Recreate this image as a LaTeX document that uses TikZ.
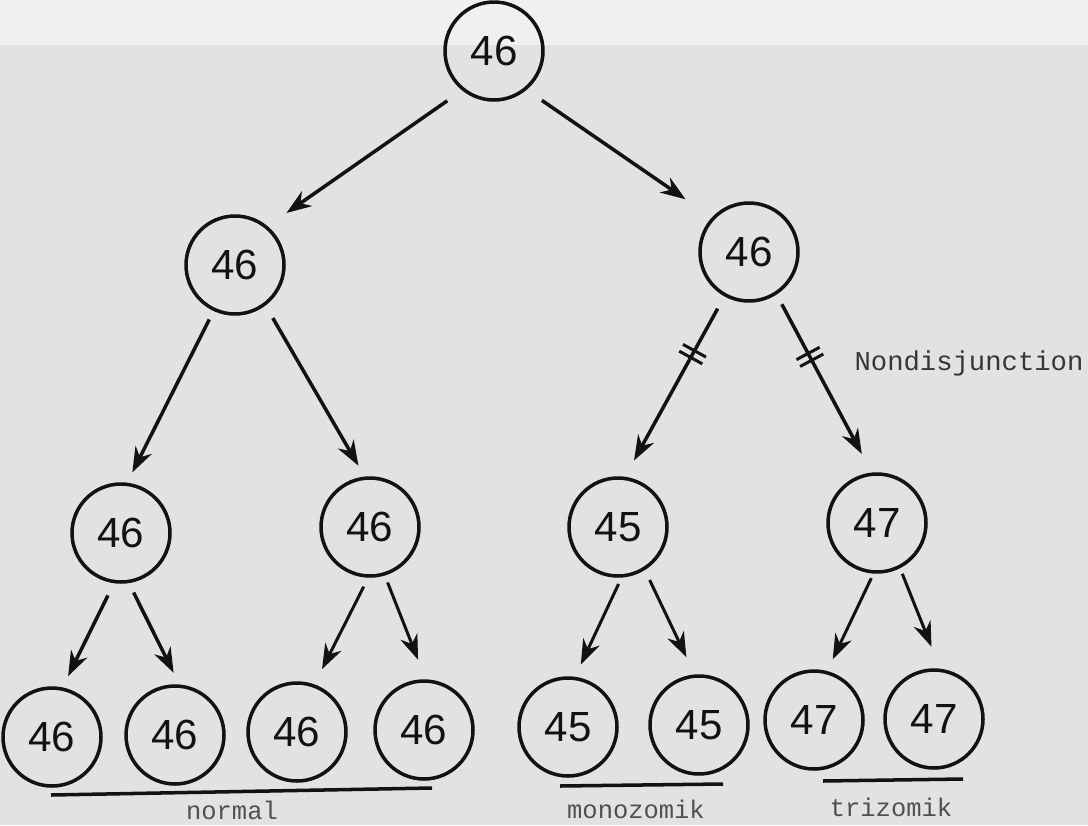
\documentclass[tikz,border=0pt]{standalone}
\usepackage{fontspec}
\usetikzlibrary{arrows.meta,decorations.markings}
\newfontfamily\numfont{Liberation Sans}
\newfontfamily\labfont{Liberation Mono}
\definecolor{paper}{RGB}{226,226,228}
\definecolor{paperlight}{RGB}{240,240,240}
\definecolor{ink}{RGB}{18,18,18}
\definecolor{labink}{RGB}{80,80,80}
\begin{document}
\begin{tikzpicture}[x=0.02cm,y=-0.02cm,
  cell/.style={circle,draw=ink,line width=2pt,minimum size=1.96cm,inner sep=0pt,
    text=ink,font=\numfont\fontsize{24}{24}\selectfont},
  arr/.style={draw=ink,line width=2pt,-{Stealth[length=5mm,width=3.6mm,inset=1.6mm]}},
  thinarr/.style={arr,line width=1.7pt},
  lab/.style={text=labink,inner sep=0pt,font=\labfont\fontsize{14.5}{15}\selectfont},
  uline/.style={draw=ink,line width=2pt},
  ticks/.style={postaction={decorate},decoration={markings,
    mark=at position #1 with {\draw[-,draw=ink,line width=1.7pt,shorten <=0pt,shorten >=0pt]
      (-2.2pt,-7.5pt)--(-2.2pt,7.5pt) (2.2pt,-7.5pt)--(2.2pt,7.5pt);}}}
]
\useasboundingbox (0,0) rectangle (1088,825);
\fill[paper] (0,0) rectangle (1088,825);
\fill[paperlight] (0,0) rectangle (1088,45);

% nodes
\node[cell] (T) at (494,51) {46};
\node[cell] (A) at (235,265) {46};
\node[cell] (B) at (749,252) {46};
\node[cell] (C1) at (121,533) {46};
\node[cell] (C2) at (370,527) {46};
\node[cell] (C3) at (618,527) {45};
\node[cell] (C4) at (877,523) {47};
\node[cell] (D1) at (52,737) {46};
\node[cell] (D2) at (175,735) {46};
\node[cell] (D3) at (297,732) {46};
\node[cell] (D4) at (424,730) {46};
\node[cell] (D5) at (568,727) {45};
\node[cell] (D6) at (699,725) {45};
\node[cell] (D7) at (814,720) {47};
\node[cell] (D8) at (934,719) {47};

% arrows
\draw[arr,shorten <=3.6mm,shorten >=4.6mm] (T.231) -- (A.50);
\draw[arr,shorten <=3.7mm,shorten >=6.4mm] (T.310) -- (B.137);
\draw[arr,shorten <=1.9mm,shorten >=2.3mm] (A.245) -- (C1.83);
\draw[arr,shorten <=2.9mm,shorten >=2.5mm] (A.307) -- (C2.96);
\draw[arr,ticks=0.32,shorten <=2.8mm,shorten >=3.7mm] (B.241) -- (C3.82);
\draw[arr,ticks=0.35,shorten <=2.2mm,shorten >=4.2mm] (B.303) -- (C4.96);
\draw[arr,shorten <=2.7mm,shorten >=2.5mm] (C1.262) -- (D1.78);
\draw[arr,shorten <=2.1mm,shorten >=2.6mm] (C1.279) -- (D2.85);
\draw[thinarr,shorten <=2mm,shorten >=3.4mm] (C2.268) -- (D3.70);
\draw[thinarr,shorten <=1.5mm,shorten >=4.2mm] (C2.287) -- (D4.88);
\draw[thinarr,shorten <=1.4mm,shorten >=2.7mm] (C3.274) -- (D5.82);
\draw[thinarr,shorten <=2.2mm,shorten >=3.8mm] (C3.302) -- (D6.95);
\draw[thinarr,shorten <=1mm,shorten >=2.6mm] (C4.266) -- (D7.75);
\draw[thinarr,shorten <=1.2mm,shorten >=4.7mm] (C4.297) -- (D8.83);

% labels
\node[lab,text=ink!85,font=\labfont\fontsize{15.5}{16}\selectfont] (nd) at (969,363) {Nondisjunction};
\draw[uline] (51,795) -- (432,788);
\node[lab] (norm) at (232,810) {normal};
\draw[uline] (560,786) -- (723,784);
\node[lab] (mono) at (636,809) {monozomik};
\draw[uline] (823,781) -- (963,779);
\node[lab] (tri) at (891,807) {trizomik};
\end{tikzpicture}
\end{document}
